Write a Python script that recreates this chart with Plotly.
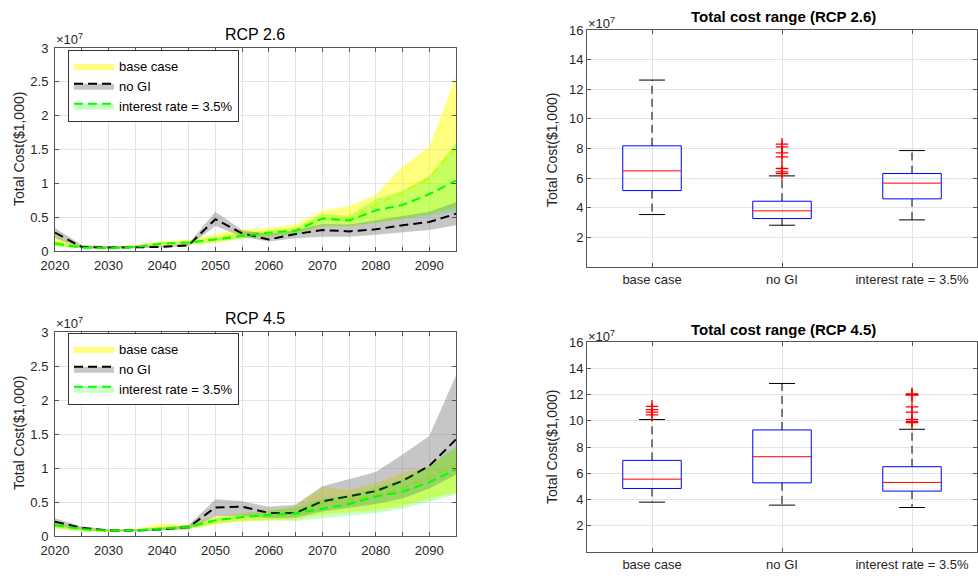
import plotly.graph_objects as go

# ---------------- data (total cost, units of 1e7 x $1,000) ----------------
years = [2020, 2025, 2030, 2035, 2040, 2045, 2050, 2055,
         2060, 2065, 2070, 2075, 2080, 2085, 2090, 2095]

# RCP 2.6
r26_base_mean = [0.13, 0.06, 0.05, 0.07, 0.11, 0.13, 0.18, 0.25, 0.28, 0.32, 0.49, 0.48, 0.68, 0.86, 1.08, 1.52]
r26_base_up = [0.22, 0.08, 0.07, 0.09, 0.15, 0.16, 0.25, 0.32, 0.34, 0.39, 0.60, 0.66, 0.83, 1.25, 1.54, 2.58]
r26_base_lo = [0.07, 0.04, 0.04, 0.05, 0.08, 0.09, 0.12, 0.19, 0.21, 0.25, 0.36, 0.36, 0.42, 0.47, 0.55, 0.65]
r26_nogi_mean = [0.27, 0.06, 0.05, 0.05, 0.06, 0.085, 0.47, 0.26, 0.17, 0.25, 0.31, 0.29, 0.32, 0.38, 0.43, 0.55]
r26_nogi_up = [0.34, 0.09, 0.07, 0.07, 0.08, 0.11, 0.58, 0.31, 0.25, 0.31, 0.40, 0.39, 0.45, 0.52, 0.58, 0.72]
r26_nogi_lo = [0.19, 0.04, 0.04, 0.04, 0.05, 0.07, 0.37, 0.21, 0.14, 0.19, 0.21, 0.21, 0.24, 0.27, 0.31, 0.38]
r26_ir_mean = [0.11, 0.05, 0.04, 0.06, 0.11, 0.125, 0.17, 0.22, 0.27, 0.30, 0.48, 0.45, 0.60, 0.68, 0.84, 1.04]
r26_ir_up = [0.15, 0.07, 0.06, 0.08, 0.13, 0.15, 0.21, 0.27, 0.30, 0.34, 0.55, 0.52, 0.77, 0.89, 1.11, 1.60]
r26_ir_lo = [0.07, 0.04, 0.03, 0.04, 0.08, 0.10, 0.13, 0.18, 0.22, 0.25, 0.38, 0.37, 0.42, 0.47, 0.52, 0.58]

# RCP 4.5
r45_base_mean = [0.15, 0.09, 0.07, 0.08, 0.12, 0.13, 0.22, 0.27, 0.30, 0.34, 0.48, 0.52, 0.60, 0.70, 0.85, 1.05]
r45_base_up = [0.20, 0.12, 0.09, 0.11, 0.18, 0.17, 0.29, 0.34, 0.37, 0.44, 0.72, 0.68, 0.78, 0.93, 1.03, 1.30]
r45_base_lo = [0.11, 0.07, 0.06, 0.07, 0.09, 0.10, 0.17, 0.21, 0.23, 0.24, 0.32, 0.35, 0.38, 0.44, 0.55, 0.64]
r45_nogi_mean = [0.21, 0.12, 0.08, 0.08, 0.10, 0.13, 0.42, 0.43, 0.34, 0.34, 0.51, 0.59, 0.66, 0.81, 1.03, 1.42]
r45_nogi_up = [0.26, 0.14, 0.10, 0.10, 0.12, 0.16, 0.54, 0.51, 0.43, 0.46, 0.73, 0.84, 0.94, 1.20, 1.47, 2.36]
r45_nogi_lo = [0.15, 0.09, 0.07, 0.07, 0.08, 0.10, 0.29, 0.30, 0.26, 0.27, 0.36, 0.42, 0.47, 0.55, 0.70, 0.90]
r45_ir_mean = [0.16, 0.10, 0.08, 0.08, 0.11, 0.13, 0.23, 0.28, 0.31, 0.33, 0.40, 0.47, 0.58, 0.65, 0.79, 0.98]
r45_ir_up = [0.19, 0.12, 0.09, 0.10, 0.13, 0.16, 0.27, 0.32, 0.36, 0.42, 0.55, 0.60, 0.72, 0.83, 1.02, 1.32]
r45_ir_lo = [0.11, 0.07, 0.06, 0.06, 0.08, 0.10, 0.18, 0.22, 0.23, 0.22, 0.27, 0.30, 0.34, 0.40, 0.51, 0.61]

# Box plot statistics (units of 1e7): lower whisker, Q1, median, Q3, upper whisker
box_categories = ["base case", "no GI", "interest rate = 3.5%"]
b26_lower = [3.54, 2.82, 3.18]
b26_q1 = [5.16, 3.27, 4.60]
b26_median = [6.49, 3.79, 5.66]
b26_q3 = [8.18, 4.44, 6.31]
b26_upper = [12.62, 6.15, 7.86]
b26_outliers = [[], [6.31, 6.42, 6.65, 7.44, 7.70, 8.11, 8.29], []]

b45_lower = [3.80, 3.57, 3.39]
b45_q1 = [4.84, 5.27, 4.64]
b45_median = [5.55, 7.26, 5.30]
b45_q3 = [6.98, 9.30, 6.50]
b45_upper = [10.09, 12.84, 9.35]
b45_outliers = [[10.45, 10.65, 10.85, 11.10], [], [9.85, 9.95, 10.10, 10.65, 11.05, 11.95, 12.00, 12.05]]

series_names = ["base case", "no GI", "interest rate = 3.5%"]

# ---------------- styles ----------------
FONT = "Liberation Sans, Arial, sans-serif"
TXT = "#262626"
BAND = ["rgba(255,255,0,0.5)", "rgba(128,128,128,0.45)", "rgba(0,255,0,0.22)"]
LINEC = ["#ffff00", "#000000", "#00ff00"]
DASH = "9px,5px"

fig = go.Figure()


def add_panel(xa, ya, legend, data):
    for k, (mean, lo, hi) in enumerate(data):
        fig.add_trace(go.Scatter(
            x=years + years[::-1], y=hi + lo[::-1], fill="toself",
            fillcolor=BAND[k], line=dict(width=0), mode="lines",
            hoverinfo="skip", showlegend=False, xaxis=xa, yaxis=ya))
        fig.add_trace(go.Scatter(
            x=years, y=mean, mode="lines",
            line=dict(color=LINEC[k], width=2, dash=DASH),
            showlegend=False, xaxis=xa, yaxis=ya))
    # legend entries (patch + dashed line)
    for k in range(3):
        fig.add_trace(go.Scatter(
            x=[None], y=[None], mode="lines", fill="toself",
            fillcolor=BAND[k],
            line=dict(color=LINEC[k], width=0 if k == 0 else 2, dash=DASH),
            name=series_names[k], legend=legend, showlegend=True,
            xaxis=xa, yaxis=ya))


add_panel("x", "y", "legend", [
    (r26_base_mean, r26_base_lo, r26_base_up),
    (r26_nogi_mean, r26_nogi_lo, r26_nogi_up),
    (r26_ir_mean, r26_ir_lo, r26_ir_up)])
add_panel("x2", "y2", "legend2", [
    (r45_base_mean, r45_base_lo, r45_base_up),
    (r45_nogi_mean, r45_nogi_lo, r45_nogi_up),
    (r45_ir_mean, r45_ir_lo, r45_ir_up)])

BOX_HW = 0.225
CAP_HW = 0.1


def add_boxes(xa, ya, lower, q1, med, q3, upper, outliers):
    bx, by, wx, wy, cx, cy, mx, my, ox, oy = [], [], [], [], [], [], [], [], [], []
    for i in range(len(box_categories)):
        p = i + 1
        bx += [p - BOX_HW, p + BOX_HW, p + BOX_HW, p - BOX_HW, p - BOX_HW, None]
        by += [q1[i], q1[i], q3[i], q3[i], q1[i], None]
        wx += [p, p, None, p, p, None]
        wy += [q3[i], upper[i], None, q1[i], lower[i], None]
        cx += [p - CAP_HW, p + CAP_HW, None, p - CAP_HW, p + CAP_HW, None]
        cy += [upper[i], upper[i], None, lower[i], lower[i], None]
        mx += [p - BOX_HW, p + BOX_HW, None]
        my += [med[i], med[i], None]
        ox += [p] * len(outliers[i])
        oy += outliers[i]
    common = dict(xaxis=xa, yaxis=ya, showlegend=False, hoverinfo="skip")
    fig.add_trace(go.Scatter(x=wx, y=wy, mode="lines",
                             line=dict(color="#000000", width=1, dash="8px,5px"), **common))
    fig.add_trace(go.Scatter(x=cx, y=cy, mode="lines",
                             line=dict(color="#000000", width=1), **common))
    fig.add_trace(go.Scatter(x=bx, y=by, mode="lines",
                             line=dict(color="#0000ff", width=1), **common))
    fig.add_trace(go.Scatter(x=mx, y=my, mode="lines",
                             line=dict(color="#ff0000", width=1), **common))
    fig.add_trace(go.Scatter(x=ox, y=oy, mode="markers",
                             marker=dict(symbol="cross-thin", size=9,
                                         line=dict(color="#ff0000", width=1.3)),
                             **common))


add_boxes("x3", "y3", b26_lower, b26_q1, b26_median, b26_q3, b26_upper, b26_outliers)
add_boxes("x4", "y4", b45_lower, b45_q1, b45_median, b45_q3, b45_upper, b45_outliers)

W, H = 978, 576


def dx(a, b):
    return [a / W, b / W]


def dy(top, bottom):
    return [1 - bottom / H, 1 - top / H]


axis_common = dict(showline=True, linecolor="#555555", linewidth=1, mirror="ticks",
                   ticks="inside", ticklen=4, tickcolor="#555555",
                   showgrid=True, gridcolor="#e3e3e3", gridwidth=1, zeroline=False,
                   automargin=False,
                   tickfont=dict(family=FONT, size=13, color=TXT))

minor_x = dict(dtick=5, tick0=2020, showgrid=True, gridcolor="#e3e3e3",
               ticks="inside", ticklen=4, tickcolor="#555555")
ly_vals = [0, 0.5, 1, 1.5, 2, 2.5, 3]
ly_text = ["0", "0.5", "1", "1.5", "2", "2.5", "3"]
ry_vals = [2, 4, 6, 8, 10, 12, 14, 16]

layout = dict(
    width=W, height=H, margin=dict(l=0, r=0, t=0, b=0, autoexpand=False),
    paper_bgcolor="white", plot_bgcolor="white",
    font=dict(family=FONT, color=TXT),
    xaxis=dict(domain=dx(55, 456), range=[2020, 2095], tick0=2020, dtick=10,
               minor=minor_x, anchor="y", ticklabelstandoff=2, **axis_common),
    yaxis=dict(domain=dy(48, 251), range=[0, 3], tickvals=ly_vals,
               ticktext=ly_text, anchor="x", ticklabelstandoff=3, **axis_common),
    xaxis2=dict(domain=dx(55, 456), range=[2020, 2095], tick0=2020, dtick=10,
                minor=minor_x, anchor="y2", ticklabelstandoff=2, **axis_common),
    yaxis2=dict(domain=dy(332, 536), range=[0, 3], tickvals=ly_vals,
                ticktext=ly_text, anchor="x2", ticklabelstandoff=3, **axis_common),
    xaxis3=dict(domain=dx(587, 977), range=[0.5, 3.5], tickvals=[1, 2, 3],
                ticktext=box_categories, anchor="y3", **axis_common),
    yaxis3=dict(domain=dy(30, 267), range=[0, 16], tickvals=ry_vals,
                anchor="x3", **axis_common),
    xaxis4=dict(domain=dx(587, 977), range=[0.5, 3.5], tickvals=[1, 2, 3],
                ticktext=box_categories, anchor="y4", **axis_common),
    yaxis4=dict(domain=dy(342, 552), range=[0, 16], tickvals=ry_vals,
                anchor="x4", **axis_common),
    legend=dict(x=68 / W, y=1 - 50 / H, xanchor="left", yanchor="top",
                bgcolor="white", bordercolor="#333333", borderwidth=1,
                font=dict(family=FONT, size=13, color="#000000"),
                itemwidth=40, tracegroupgap=0),
    legend2=dict(x=68 / W, y=1 - 333 / H, xanchor="left", yanchor="top",
                 bgcolor="white", bordercolor="#333333", borderwidth=1,
                 font=dict(family=FONT, size=13, color="#000000"),
                 itemwidth=40, tracegroupgap=0),
)
fig.update_layout(**layout)

ann = []


def add_text(text, x, y, size, bold=False, angle=0, color="#000000", xanchor="center"):
    ann.append(dict(text=("<b>%s</b>" % text) if bold else text,
                    x=x / W, y=1 - y / H, xref="paper", yref="paper",
                    showarrow=False, textangle=angle, xanchor=xanchor, yanchor="middle",
                    font=dict(family=FONT, size=size, color=color)))


add_text("RCP 2.6", 255, 34, 16)
add_text("RCP 4.5", 255, 318, 16)
add_text("Total cost range (RCP 2.6)", 783, 16, 15, bold=True)
add_text("Total cost range (RCP 4.5)", 783, 329, 15, bold=True)
for (xx, yy) in [(54, 39), (54, 323), (586, 23), (586, 336)]:
    add_text("×10<sup>7</sup>", xx, yy, 13, color=TXT, xanchor="left")
add_text("Total Cost($1,000)", 19, 149, 14, angle=-90, color=TXT)
add_text("Total Cost($1,000)", 19, 433, 14, angle=-90, color=TXT)
add_text("Total Cost($1,000)", 552, 150, 14, angle=-90, color=TXT)
add_text("Total Cost($1,000)", 552, 447, 14, angle=-90, color=TXT)
fig.update_layout(annotations=ann)

fig.write_html("out.html", config={"displayModeBar": False},
               post_script="document.body.style.margin='0';document.body.style.padding='0';")
